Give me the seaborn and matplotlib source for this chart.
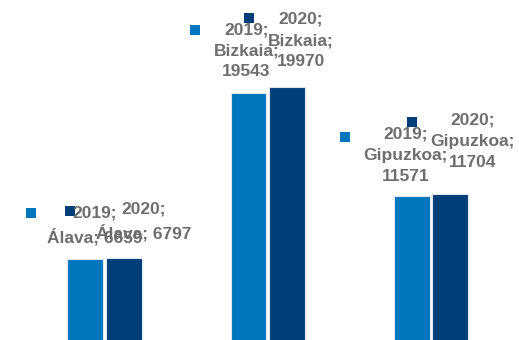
import textwrap

import matplotlib
matplotlib.use("Agg")
import matplotlib.pyplot as plt
from matplotlib.transforms import offset_copy
import pandas as pd
import seaborn as sns

# Data: population by province, two years
provinces = ["Álava", "Bizkaia", "Gipuzkoa"]
years = ["2019", "2020"]
values_2019 = [6659, 19543, 11571]
values_2020 = [6797, 19970, 11704]

palette = {"2019": "#0076BE", "2020": "#003E7A"}
label_color = "#6e6e6e"

df = pd.DataFrame({
    "provincia": provinces * 2,
    "año": [years[0]] * 3 + [years[1]] * 3,
    "valor": values_2019 + values_2020,
})

sns.set_theme(style="white")
plt.rcParams["font.family"] = ["Liberation Sans", "DejaVu Sans"]

fig = plt.figure(figsize=(5.19, 3.40), dpi=100)
ax = fig.add_axes([0, 0, 1, 1])

sns.barplot(
    data=df, x="provincia", y="valor", hue="año", order=provinces,
    hue_order=years, palette=palette, saturation=1, width=0.471, gap=0.065,
    edgecolor="#dde5ee", linewidth=0.8, legend=False, ax=ax,
)

ax.set_xlim(-0.640, 2.539)
ax.set_ylim(425, 26690)
ax.axis("off")

# Label placement (pixel offsets from each bar's top centre):
# (text dx, text cap-top dy, key dx, key dy)
label_offsets = {
    "2019": [(9, 51, -54.5, 46), (-2, 67.5, -53.5, 63), (-6.5, 66, -67, 58.5)],
    "2020": [(20, 53.5, -53.5, 47), (14, 72, -38, 68.5), (22, 78.5, -38.5, 71.5)],
}

for year, container in zip(years, ax.containers):
    vals = values_2019 if year == "2019" else values_2020
    for i, (bar, prov, val) in enumerate(zip(container, provinces, vals)):
        xc = bar.get_x() + bar.get_width() / 2
        top = bar.get_height()
        tdx, tdy, kdx, kdy = label_offsets[year][i]
        text = textwrap.fill(f"{year}; {prov}; {val}", width=11)
        ax.annotate(
            text, xy=(xc, top), xytext=(tdx, tdy + 3),
            textcoords="offset pixels", ha="center", va="top",
            multialignment="center", fontsize=12.5, fontweight="bold",
            color=label_color, linespacing=1.52, annotation_clip=False,
        )
        tr = offset_copy(ax.transData, fig=fig, x=kdx, y=kdy, units="dots")
        ax.plot([xc], [top], marker="s", ms=6.8, mew=0,
                color=palette[year], transform=tr, clip_on=False)

fig.savefig("out.png", dpi=100)
